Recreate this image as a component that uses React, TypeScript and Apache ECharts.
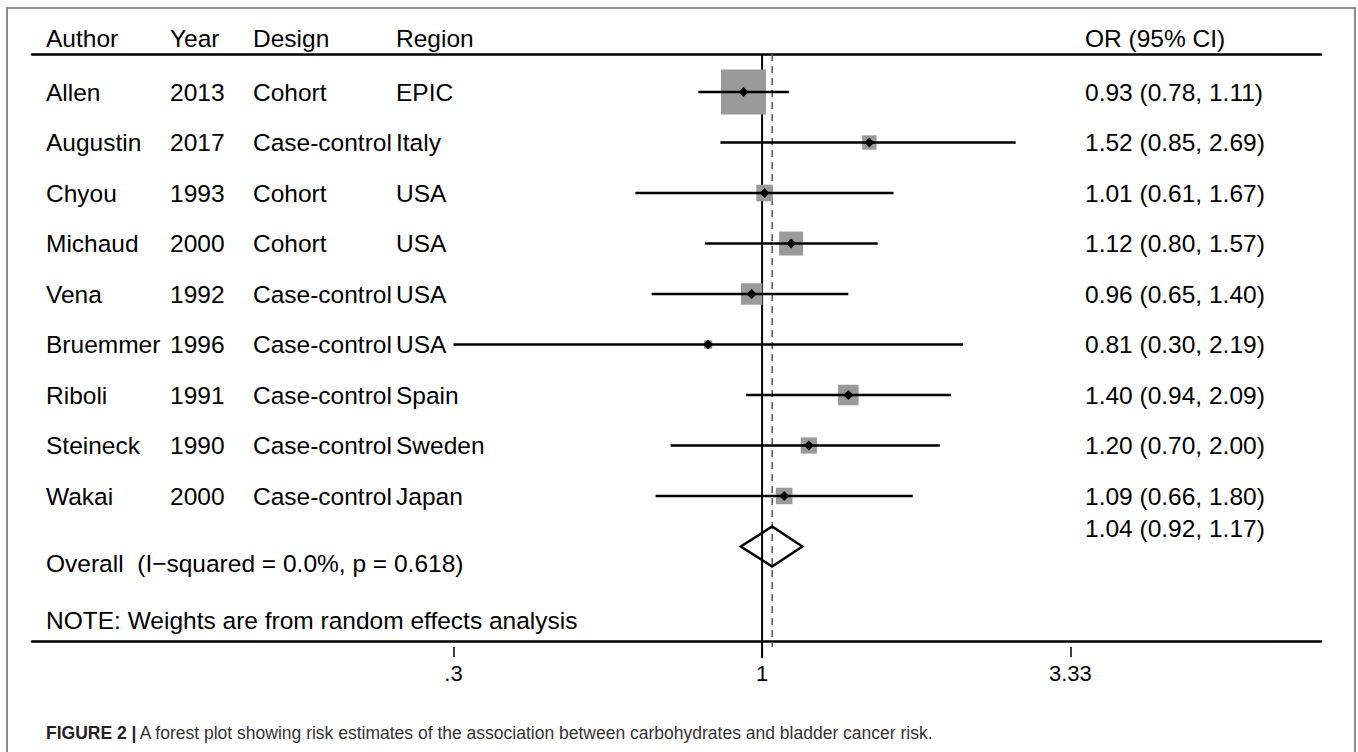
import React, { useEffect, useRef } from "react";
import * as echarts from "echarts";

// ---------------- data ----------------
const authors = ["Allen", "Augustin", "Chyou", "Michaud", "Vena", "Bruemmer", "Riboli", "Steineck", "Wakai"];
const years = ["2013", "2017", "1993", "2000", "1992", "1996", "1991", "1990", "2000"];
const designs = ["Cohort", "Case-control", "Cohort", "Cohort", "Case-control", "Case-control", "Case-control", "Case-control", "Case-control"];
const regions = ["EPIC", "Italy", "USA", "USA", "USA", "USA", "Spain", "Sweden", "Japan"];
const oddsRatios = [0.93, 1.52, 1.01, 1.12, 0.96, 0.81, 1.4, 1.2, 1.09];
const lowerCI = [0.78, 0.85, 0.61, 0.8, 0.65, 0.3, 0.94, 0.7, 0.66];
const upperCI = [1.11, 2.69, 1.67, 1.57, 1.4, 2.19, 2.09, 2.0, 1.8];
const weights = [44.0, 4.5, 6.0, 12.5, 10.0, 1.5, 9.2, 5.7, 6.0];

const overallOR = 1.04;
const overallLower = 0.92;
const overallUpper = 1.17;

const tickValues = [0.3, 1, 3.33];
const tickLabels = [".3", "1", "3.33"];
const headerLabels = ["Author", "Year", "Design", "Region", "OR (95% CI)"];
const overallLabel = "Overall  (I\u2212squared = 0.0%, p = 0.618)";
const noteLabel = "NOTE: Weights are from random effects analysis";
const captionTitle = "FIGURE 2 |";
const captionText = "A forest plot showing risk estimates of the association between carbohydrates and bladder cancer risk.";

// ---------------- layout ----------------
const FONT = '"Liberation Sans", Arial, Helvetica, sans-serif';
const FS = 24.5;
const COL_X = [46, 170, 253, 396];
const OR_X = 1085;

export default function App() {
  const ref = useRef<HTMLDivElement>(null);

  useEffect(() => {
    if (!ref.current) return;
    const chart = echarts.init(ref.current, null, { renderer: "svg" });
    const lg = Math.log10;
    const xMin = -1.237;
    const xMax = 0.947;
    const yMin = 0.2475;
    const yMax = 11.871;
    const fmt = (v: number) => v.toFixed(2);
    const tickLogs = tickValues.map((v) => lg(v));

    const txt = (text: string, x: number, y: number, size = FS, extra: any = {}) => ({
      type: "text",
      x,
      y,
      style: {
        text,
        fill: "#000",
        font: `${size}px ${FONT}`,
        align: "left",
        verticalAlign: "middle",
        ...extra,
      },
    });

    const studyData = authors.map((_, i) => [
      lg(oddsRatios[i]),
      i + 1,
      lg(lowerCI[i]),
      lg(upperCI[i]),
      weights[i],
    ]);

    const tableData = authors.map((_, i) => [xMin, i + 1]);

    const option: any = {
      animation: false,
      backgroundColor: "#fff",
      grid: { left: 32, top: 54, width: 1289, height: 587, containLabel: false },
      xAxis: [
        {
          type: "value",
          min: xMin,
          max: xMax,
          position: "bottom",
          axisLine: { show: true, lineStyle: { color: "#000", width: 2.5 } },
          axisTick: { show: false },
          axisLabel: { show: false },
          splitLine: { show: false },
        },
        {
          type: "value",
          min: xMin,
          max: xMax,
          position: "top",
          axisLine: { show: true, lineStyle: { color: "#000", width: 2.5 } },
          axisTick: { show: false },
          axisLabel: { show: false },
          splitLine: { show: false },
        },
        {
          type: "value",
          min: xMin,
          max: xMax,
          position: "bottom",
          offset: 6,
          axisLine: { show: false },
          axisTick: {
            show: true,
            customValues: tickLogs,
            length: 10,
            lineStyle: { color: "#000", width: 1.5 },
          },
          axisLabel: {
            show: true,
            customValues: tickLogs,
            margin: 15,
            color: "#000",
            fontSize: 22,
            fontFamily: FONT,
            formatter: (v: number) => {
              let best = 0;
              tickLogs.forEach((t, k) => {
                if (Math.abs(t - v) < Math.abs(tickLogs[best] - v)) best = k;
              });
              return tickLabels[best];
            },
          },
          splitLine: { show: false },
        },
      ],
      yAxis: { type: "value", inverse: true, min: yMin, max: yMax, show: false },
      graphic: [
        {
          type: "rect",
          shape: { x: 7, y: 8, width: 1348, height: 780 },
          style: { fill: "none", stroke: "#8c8c8c", lineWidth: 2 },
          silent: true,
        },
        ...headerLabels.slice(0, 4).map((h, k) => txt(h, COL_X[k], 38)),
        txt(headerLabels[4], OR_X, 38),
        txt(noteLabel, COL_X[0], 620),
        {
          type: "text",
          x: 46,
          y: 733,
          style: {
            text: `{b|${captionTitle}} {n|${captionText}}`,
            verticalAlign: "middle",
            align: "left",
            rich: {
              b: { fontWeight: "bold", fontSize: 17.5, fontFamily: FONT, fill: "#222", color: "#222" },
              n: { fontSize: 17.5, fontFamily: FONT, fill: "#333", color: "#333" },
            },
          },
        },
      ],
      series: [
        {
          type: "custom",
          name: "reference",
          xAxisIndex: 0,
          clip: false,
          data: [[lg(1), lg(overallOR)]],
          renderItem: (params: any, api: any) => {
            const cs = params.coordSys;
            const xNull = api.coord([api.value(0), yMin])[0];
            const xOv = api.coord([api.value(1), yMin])[0];
            return {
              type: "group",
              children: [
                {
                  type: "line",
                  shape: { x1: xNull, y1: cs.y, x2: xNull, y2: cs.y + cs.height + 17 },
                  style: { stroke: "#000", lineWidth: 2 },
                },
                {
                  type: "line",
                  shape: { x1: xOv, y1: cs.y, x2: xOv, y2: cs.y + cs.height + 6 },
                  style: { stroke: "#555", lineWidth: 1.5, lineDash: [7, 5] },
                },
              ],
            };
          },
        },
        {
          type: "custom",
          name: "studies",
          xAxisIndex: 0,
          clip: false,
          data: studyData,
          renderItem: (params: any, api: any) => {
            const row = api.value(1);
            const pt = api.coord([api.value(0), row]);
            const lo = api.coord([api.value(2), row]);
            const hi = api.coord([api.value(3), row]);
            const s = 6.78 * Math.sqrt(api.value(4));
            const m = 5;
            return {
              type: "group",
              children: [
                {
                  type: "rect",
                  shape: { x: pt[0] - s / 2, y: pt[1] - s / 2, width: s, height: s },
                  style: { fill: "#9a9a9a" },
                },
                {
                  type: "line",
                  shape: { x1: lo[0], y1: pt[1], x2: hi[0], y2: pt[1] },
                  style: { stroke: "#000", lineWidth: 2.5 },
                },
                {
                  type: "polygon",
                  shape: {
                    points: [
                      [pt[0] - m, pt[1]],
                      [pt[0], pt[1] - m],
                      [pt[0] + m, pt[1]],
                      [pt[0], pt[1] + m],
                    ],
                  },
                  style: { fill: "#000" },
                },
              ],
            };
          },
        },
        {
          type: "custom",
          name: "overall",
          xAxisIndex: 0,
          clip: false,
          data: [[lg(overallOR), 10, lg(overallLower), lg(overallUpper)]],
          renderItem: (params: any, api: any) => {
            const row = api.value(1);
            const mid = api.coord([api.value(0), row]);
            const lo = api.coord([api.value(2), row]);
            const hi = api.coord([api.value(3), row]);
            const h = 20;
            return {
              type: "group",
              children: [
                {
                  type: "polygon",
                  shape: {
                    points: [
                      [lo[0], mid[1]],
                      [mid[0], mid[1] - h],
                      [hi[0], mid[1]],
                      [mid[0], mid[1] + h],
                    ],
                  },
                  style: { fill: "none", stroke: "#000", lineWidth: 2.5 },
                },
                txt(overallLabel, COL_X[0], mid[1] + 17),
                txt(`${fmt(overallOR)} (${fmt(overallLower)}, ${fmt(overallUpper)})`, OR_X, mid[1] - 18),
              ],
            };
          },
        },
        {
          type: "custom",
          name: "table",
          xAxisIndex: 0,
          clip: false,
          data: tableData,
          renderItem: (params: any, api: any) => {
            const i = params.dataIndex;
            const y = api.coord([api.value(0), api.value(1)])[1];
            return {
              type: "group",
              children: [
                txt(authors[i], COL_X[0], y),
                txt(years[i], COL_X[1], y),
                txt(designs[i], COL_X[2], y),
                txt(regions[i], COL_X[3], y),
                txt(`${fmt(oddsRatios[i])} (${fmt(lowerCI[i])}, ${fmt(upperCI[i])})`, OR_X, y),
              ],
            };
          },
        },
      ],
    };

    chart.setOption(option);
    return () => chart.dispose();
  }, []);

  return (
    <div
      ref={ref}
      style={{ position: "absolute", left: 0, top: 0, width: 1358, height: 752 }}
    />
  );
}
